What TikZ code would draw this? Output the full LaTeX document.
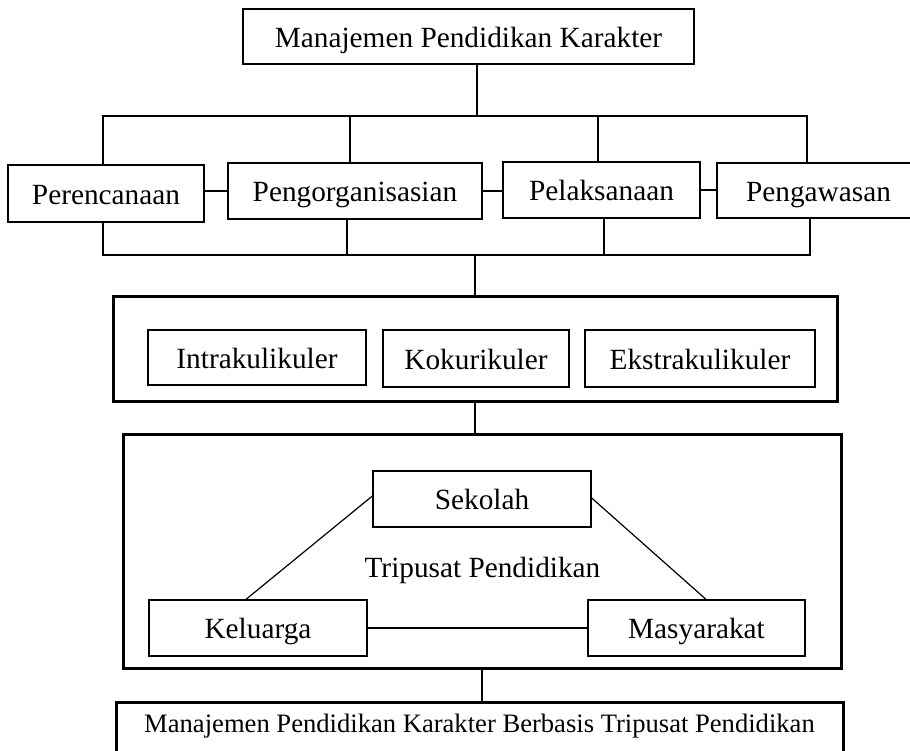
\documentclass[tikz,border=0pt]{standalone}
\usepackage{fontspec}
\setmainfont{Liberation Serif}

\begin{document}
\begin{tikzpicture}[x=1pt,y=-1pt,
  box/.style={draw,line width=2.6pt,inner sep=0pt,font=\fontsize{29.3}{34}\selectfont,text height=27pt,text depth=6pt},
  subbox/.style={box,line width=1.3pt},
  frame/.style={draw,line width=3pt,inner sep=0pt},
  link/.style={line width=1.2pt}]
\useasboundingbox (0,0) rectangle (910,750);
% header and the four functions
\node[box,minimum width=451pt,minimum height=55pt] (mpk) at (468.5,36.5) {Manajemen Pendidikan Karakter};
\node[box,minimum width=196pt,minimum height=57pt] (per) at (106,193.5) {Perencanaan};
\node[box,minimum width=254pt,minimum height=56pt] (org) at (355,191) {Pengorganisasian};
\node[box,minimum width=197pt,minimum height=56pt] (pel) at (601.5,190) {Pelaksanaan};
\node[box,minimum width=203pt,minimum height=55pt] (pen) at (818.5,190.5) {Pengawasan};
\coordinate (bus1) at (477,116);
\coordinate (bus2) at (475,255);
\draw[link] (mpk.south -| bus1) -- (bus1);
\draw[link] ([xshift=-3pt]per.north) |- (bus1);
\draw[link] ([xshift=-11.5pt]pen.north) |- (bus1);
\draw[link] ([xshift=-5pt]org.north) -- ([xshift=-5pt]org.north |- bus1);
\draw[link] ([xshift=-3.5pt]pel.north) -- ([xshift=-3.5pt]pel.north |- bus1);
\draw[link] (org.west -| per.east) -- (org.west);
\draw[link] (org.east) -- (org.east -| pel.west);
\draw[link] (pel.east) -- (pel.east -| pen.west);
\draw[link] ([xshift=-3pt]per.south) |- (bus2);
\draw[link] ([xshift=-8.5pt]pen.south) |- (bus2);
\draw[link] ([xshift=-8pt]org.south) -- ([xshift=-8pt]org.south |- bus2);
\draw[link] ([xshift=2.5pt]pel.south) -- ([xshift=2.5pt]pel.south |- bus2);
% kegiatan
\node[frame,minimum width=724pt,minimum height=105pt] (kur) at (475,348.5) {};
\node[subbox,minimum width=218pt,minimum height=55pt] (intra) at (257,357.5) {Intrakulikuler};
\node[subbox,minimum width=186pt,minimum height=57pt] (koku) at (476,358.5) {Kokurikuler};
\node[subbox,minimum width=230pt,minimum height=57pt] (ekstra) at (700,358.5) {Ekstrakulikuler};
\draw[link] (bus2) -- (kur.north);
% tripusat
\node[frame,minimum width=718pt,minimum height=234pt] (tri) at (482,551) {};
\node[subbox,minimum width=218pt,minimum height=56pt] (sek) at (482,499) {Sekolah};
\node[subbox,minimum width=218pt,minimum height=56pt] (kel) at (258,628) {Keluarga};
\node[subbox,minimum width=217pt,minimum height=56pt] (mas) at (696.5,628) {Masyarakat};
\node[font=\fontsize{29.3}{34}\selectfont,anchor=base] (tpl) at (482.5,577) {Tripusat Pendidikan};
\draw[link] ([yshift=3pt]sek.west) -- ([xshift=-12pt]kel.north);
\draw[link] ([yshift=1pt]sek.east) -- ([xshift=9.5pt]mas.north);
\draw[link] (kel.east) -- (mas.west);
\draw[link] (kur.south) -- (kur.south |- tri.north);
% hasil
\node[draw,line width=3pt,inner sep=0pt,anchor=north,minimum width=727pt,font=\fontsize{26.6}{32}\selectfont,text height=30pt,text depth=40pt] (hasil) at (479.5,701) {Manajemen Pendidikan Karakter Berbasis Tripusat Pendidikan};
\draw[link] (tri.south) -- (tri.south |- hasil.north);
\end{tikzpicture}
\end{document}
